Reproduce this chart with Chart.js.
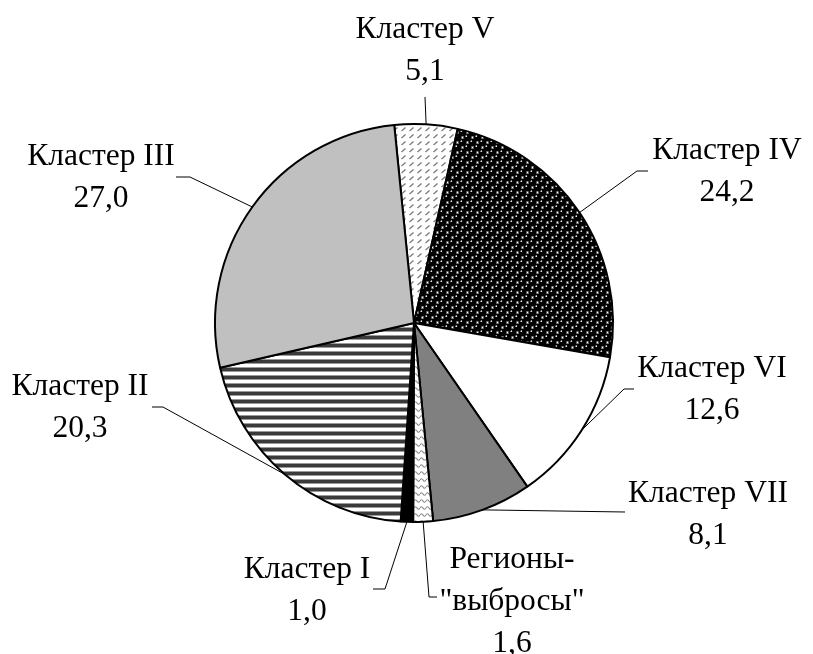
<!DOCTYPE html>
<html>
<head>
<meta charset="utf-8">
<script src="https://cdn.jsdelivr.net/npm/chart.js@4"></script>
<style>
html,body{margin:0;padding:0;background:#fff;}
#wrap{width:813px;height:654px;position:relative;}
</style>
</head>
<body>
<div id="wrap"><canvas id="c" width="813" height="654"></canvas></div>
<script>
// ---- data ----
const categories = ['Кластер V', 'Кластер IV', 'Кластер VI', 'Кластер VII', 'Регионы-\n"выбросы"', 'Кластер I', 'Кластер II', 'Кластер III'];
const values = [5.1, 24.2, 12.6, 8.1, 1.6, 1.0, 20.3, 27.0];

// ---- label layout (anchor = centre x, first baseline y; leader = elbow points) ----
const labelAnchors = [[425, 38], [727, 159], [712, 377], [708, 502], [512, 568], [307, 578], [80, 395], [101, 165]];
const leaderPoints = [
  [[425, 97]],
  [[637, 171], [648, 171]],
  [[624, 389], [634, 389]],
  [[625, 512]],
  [[429, 597], [437, 597]],
  [[385, 589], [373, 589]],
  [[163, 407], [152, 407]],
  [[190, 177], [176, 177]]
];

const canvas = document.getElementById('c');
const ctx = canvas.getContext('2d');

function makePattern(w, h, draw) {
  const c = document.createElement('canvas');
  c.width = w; c.height = h;
  const g = c.getContext('2d');
  draw(g, w, h);
  return ctx.createPattern(c, 'repeat');
}

const patV = makePattern(8, 7, (g, w, h) => {
  g.fillStyle = '#fff'; g.fillRect(0, 0, w, h);
  g.strokeStyle = '#7a7a7a'; g.lineWidth = 1.3;
  g.beginPath(); g.moveTo(1.5, 5); g.lineTo(5.5, 1.5); g.stroke();
});
const patIV = makePattern(10, 10, (g, w, h) => {
  g.fillStyle = '#fff'; g.fillRect(0, 0, w, h);
  g.fillStyle = '#6a6a6a';
  g.fillRect(0, 4.5, 10, 1); g.fillRect(4.5, 0, 1, 10);
  const dot = (x, y) => {
    g.fillStyle = '#000';
    g.beginPath(); g.arc(x, y, 4.1, 0, Math.PI * 2); g.fill();
    g.fillStyle = '#e0e0e0';
    g.beginPath(); g.arc(x - 1.2, y - 1.3, 0.9, 0, Math.PI * 2); g.fill();
  };
  for (const [x, y] of [[2.5, 2.5], [7.5, 7.5], [12.5, 2.5], [-2.5, 7.5], [2.5, 12.5], [7.5, -2.5], [12.5, 12.5], [-2.5, -2.5]]) dot(x, y);
});
const patOut = makePattern(6, 7, (g, w, h) => {
  g.fillStyle = '#fff'; g.fillRect(0, 0, w, h);
  g.strokeStyle = '#8a8a8a'; g.lineWidth = 1.2;
  g.beginPath(); g.moveTo(0, 4); g.quadraticCurveTo(1.5, 1.5, 3, 4); g.quadraticCurveTo(4.5, 6.5, 6, 4); g.stroke();
});
const patII = makePattern(4, 8, (g, w, h) => {
  g.fillStyle = '#fff'; g.fillRect(0, 0, w, h);
  g.fillStyle = '#3a3a3a'; g.fillRect(0, 0, w, 3);
  g.fillStyle = '#9a9a9a'; g.fillRect(0, 3, w, 1); g.fillRect(0, 7, w, 1);
});

const fills = [patV, patIV, '#ffffff', '#808080', patOut, '#000000', patII, '#c0c0c0'];

const fmt = v => v.toFixed(1).replace('.', ',');

const labelPlugin = {
  id: 'labels',
  afterDatasetsDraw(chart) {
    const meta = chart.getDatasetMeta(0);
    const g = chart.ctx;
    g.save();
    g.strokeStyle = '#000';
    g.lineWidth = 1;
    meta.data.forEach((arc, i) => {
      const p = arc.getProps(['x', 'y', 'startAngle', 'endAngle', 'outerRadius'], true);
      const mid = (p.startAngle + p.endAngle) / 2;
      const sx = p.x + Math.cos(mid) * p.outerRadius;
      const sy = p.y + Math.sin(mid) * p.outerRadius;
      g.beginPath();
      g.moveTo(sx, sy);
      leaderPoints[i].forEach(pt => g.lineTo(pt[0], pt[1]));
      g.stroke();
    });
    g.fillStyle = '#000';
    g.font = '31.5px "Liberation Serif", "Times New Roman", serif';
    g.textAlign = 'center';
    g.textBaseline = 'alphabetic';
    const lh = 42;
    categories.forEach((cat, i) => {
      const lines = cat.split('\n').concat([fmt(values[i])]);
      const [ax, ay] = labelAnchors[i];
      lines.forEach((ln, k) => g.fillText(ln, ax, ay + k * lh));
    });
    g.restore();
  }
};

new Chart(canvas, {
  type: 'pie',
  data: {
    labels: categories,
    datasets: [{
      data: values,
      backgroundColor: fills,
      borderColor: '#000',
      borderWidth: 2,
      hoverOffset: 0
    }]
  },
  options: {
    responsive: false,
    animation: false,
    rotation: -5.7,
    radius: 199,
    layout: { padding: { left: 215, right: 200, top: 124, bottom: 132 } },
    plugins: { legend: { display: false }, tooltip: { enabled: false } },
    events: []
  },
  plugins: [labelPlugin]
});
</script>
</body>
</html>
